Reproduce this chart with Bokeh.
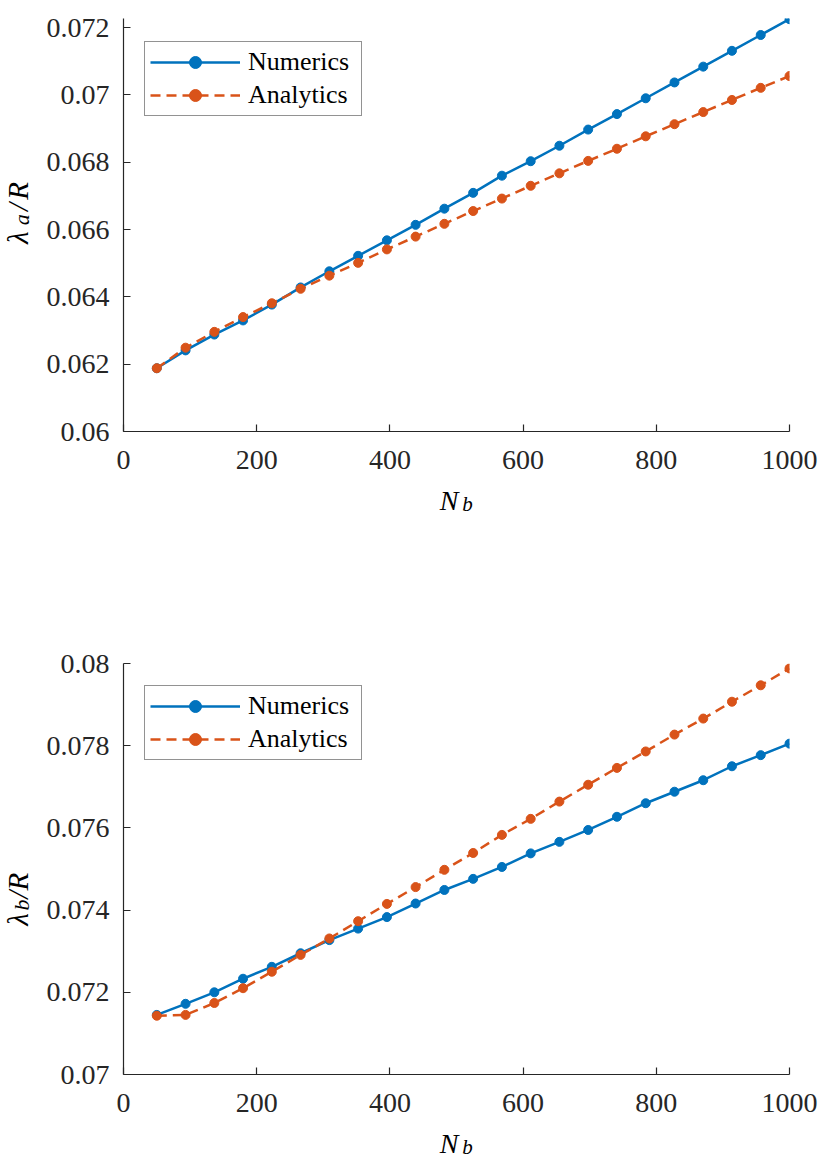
import math
from bokeh.plotting import figure
from bokeh.layouts import column, row
from bokeh.models import Range1d, FixedTicker, Legend
from bokeh.core.properties import value
from bokeh.embed import file_html
from bokeh.resources import INLINE

# ---- data ----
Nb = [50, 93.2, 136.4, 179.5, 222.7, 265.9, 309.1, 352.3, 395.5, 438.6, 481.8, 525,
      568.2, 611.4, 654.5, 697.7, 740.9, 784.1, 827.3, 870.5, 913.6, 956.8, 1000]

lam_a_numerics = [0.06188, 0.06241, 0.06288, 0.06330, 0.06377, 0.06428, 0.06476, 0.06522,
                  0.06568, 0.06614, 0.06662, 0.06709, 0.06760, 0.06803, 0.06849, 0.06897,
                  0.06943, 0.06990, 0.07037, 0.07084, 0.07131, 0.07178, 0.07225]
lam_a_analytics = [0.06188, 0.06249, 0.06296, 0.06340, 0.06381, 0.06424, 0.06463, 0.06501,
                   0.06541, 0.06579, 0.06617, 0.06655, 0.06692, 0.06730, 0.06767, 0.06804,
                   0.06840, 0.06877, 0.06913, 0.06949, 0.06985, 0.07021, 0.07056]
lam_b_numerics = [0.07145, 0.07172, 0.07200, 0.07233, 0.07262, 0.07295, 0.07327, 0.07355,
                  0.07383, 0.07416, 0.07449, 0.07476, 0.07505, 0.07538, 0.07566, 0.07595,
                  0.07627, 0.07660, 0.07688, 0.07716, 0.07750, 0.07777, 0.07805]
lam_b_analytics = [0.07143, 0.07145, 0.07174, 0.07210, 0.07250, 0.07291, 0.07331, 0.07373,
                   0.07415, 0.07456, 0.07498, 0.07539, 0.07583, 0.07622, 0.07664, 0.07705,
                   0.07746, 0.07786, 0.07827, 0.07866, 0.07907, 0.07947, 0.07988]

x_ticks = [0, 200, 400, 600, 800, 1000]
x_tick_labels = ["0", "200", "400", "600", "800", "1000"]
ya_ticks = [0.06, 0.062, 0.064, 0.066, 0.068, 0.07, 0.072]
ya_tick_labels = ["0.06", "0.062", "0.064", "0.066", "0.068", "0.07", "0.072"]
yb_ticks = [0.07, 0.072, 0.074, 0.076, 0.078, 0.08]
yb_tick_labels = ["0.07", "0.072", "0.074", "0.076", "0.078", "0.08"]

series_labels = ["Numerics", "Analytics"]

BLUE = "#0072BD"
ORANGE = "#D95319"
AX = "#262626"
FONT = "Liberation Serif"

TOTAL_W = 822
YLAB_W = 40
SHIFT = 10  # text glyphs are drawn this far "below" their anchor


def blank(width, height):
    f = figure(width=width, height=height, output_backend="svg", toolbar_location=None,
               x_range=Range1d(0, width), y_range=Range1d(0, height),
               x_axis_location=None, y_axis_location=None,
               min_border_left=0, min_border_right=0, min_border_top=0, min_border_bottom=0)
    f.outline_line_color = None
    f.grid.visible = False
    f.xgrid.grid_line_color = None
    f.ygrid.grid_line_color = None
    f.background_fill_color = "white"
    f.border_fill_color = "white"
    return f


def make_block(yvals_num, yvals_ana, yrange, yticks, ytick_labels, sub,
               border_top, frame_h, strip_h, legend_y):
    border_bottom = 52
    main_h = border_top + frame_h + border_bottom
    p = figure(width=TOTAL_W - YLAB_W, height=main_h, output_backend="svg",
               toolbar_location=None,
               x_range=Range1d(0, 1000), y_range=Range1d(*yrange),
               min_border_left=123 - YLAB_W, min_border_right=33,
               min_border_top=border_top, min_border_bottom=border_bottom)
    p.outline_line_color = None
    p.grid.visible = False
    p.background_fill_color = "white"
    p.border_fill_color = "white"

    r1l = p.line(Nb, yvals_num, line_color=BLUE, line_width=2.5)
    r1s = p.scatter(Nb, yvals_num, size=9, fill_color=BLUE, line_color=BLUE)
    r2l = p.line(Nb, yvals_ana, line_color=ORANGE, line_width=2.5, line_dash="10 6")
    r2s = p.scatter(Nb, yvals_ana, size=9, fill_color=ORANGE, line_color=ORANGE)

    for ax, ticks, labels in ((p.xaxis[0], x_ticks, x_tick_labels),
                              (p.yaxis[0], yticks, ytick_labels)):
        ax.ticker = FixedTicker(ticks=ticks)
        ax.major_label_overrides = dict(zip(ticks, labels))
        ax.axis_line_color = AX
        ax.axis_line_width = 1.2
        ax.major_tick_line_color = AX
        ax.major_tick_line_width = 1.2
        ax.major_tick_in = 7
        ax.major_tick_out = 0
        ax.minor_tick_line_color = None
        ax.major_label_text_font = FONT
        ax.major_label_text_font_size = "28px"
        ax.major_label_text_color = AX
    p.xaxis[0].major_label_standoff = 19
    p.yaxis[0].major_label_standoff = 14

    legend = Legend(items=[(series_labels[0], [r1l, r1s]), (series_labels[1], [r2l, r2s])],
                    location=(21, legend_y))
    legend.label_text_font = FONT
    legend.label_text_font_size = "26px"
    legend.label_text_color = "black"
    legend.glyph_width = 90
    legend.glyph_height = 30
    legend.label_height = 30
    legend.label_width = 108
    legend.label_standoff = 8
    legend.padding = 5
    legend.spacing = 3
    legend.margin = 0
    legend.border_line_color = AX
    legend.border_line_width = 1.2
    legend.background_fill_color = "white"
    legend.background_fill_alpha = 1
    p.add_layout(legend, "center")

    # y-axis label  lambda_sub / R (rotated, reading upward)
    yl = blank(YLAB_W, main_h)
    c = main_h - (border_top + frame_h / 2.0)
    rot = dict(angle=math.pi / 2, text_font=value(FONT), text_font_style="italic",
               text_color="black", text_align="center", text_baseline="alphabetic")
    yl.text(x=[27 - SHIFT], y=[c - 32], text=["λ"], text_font_size=value("29px"), **rot)
    yl.text(x=[31 - SHIFT], y=[c - 11], text=[sub], text_font_size=value("22px"), **rot)
    yl.text(x=[27 - SHIFT], y=[c + 4], text=["/"], text_font_size=value("29px"), **rot)
    yl.text(x=[27 - SHIFT], y=[c + 23], text=["R"], text_font_size=value("29px"), **rot)

    # x-axis label  N_b
    xl = blank(TOTAL_W, strip_h)
    base = strip_h - (27 - SHIFT)  # N baseline 27 px below the strip top
    xl.text(x=[448.5], y=[base], text=["N"], text_font=value(FONT),
            text_font_style="italic", text_font_size=value("28px"), text_color="black",
            text_align="center", text_baseline="alphabetic")
    xl.text(x=[467], y=[base - 3], text=["b"], text_font=value(FONT),
            text_font_style="italic", text_font_size=value("21px"), text_color="black",
            text_align="center", text_baseline="alphabetic")

    return column(row(yl, p, spacing=0), xl, spacing=0)


top = make_block(lam_a_numerics, lam_a_analytics, (0.06, 0.07227), ya_ticks, ya_tick_labels,
                 "a", 18, 413, 45, 315)
bottom = make_block(lam_b_numerics, lam_b_analytics, (0.07, 0.08), yb_ticks, yb_tick_labels,
                    "b", 135, 411, 36, 314)

layout = column(top, bottom, spacing=0)
open("out.html", "w").write(file_html(layout, INLINE))
